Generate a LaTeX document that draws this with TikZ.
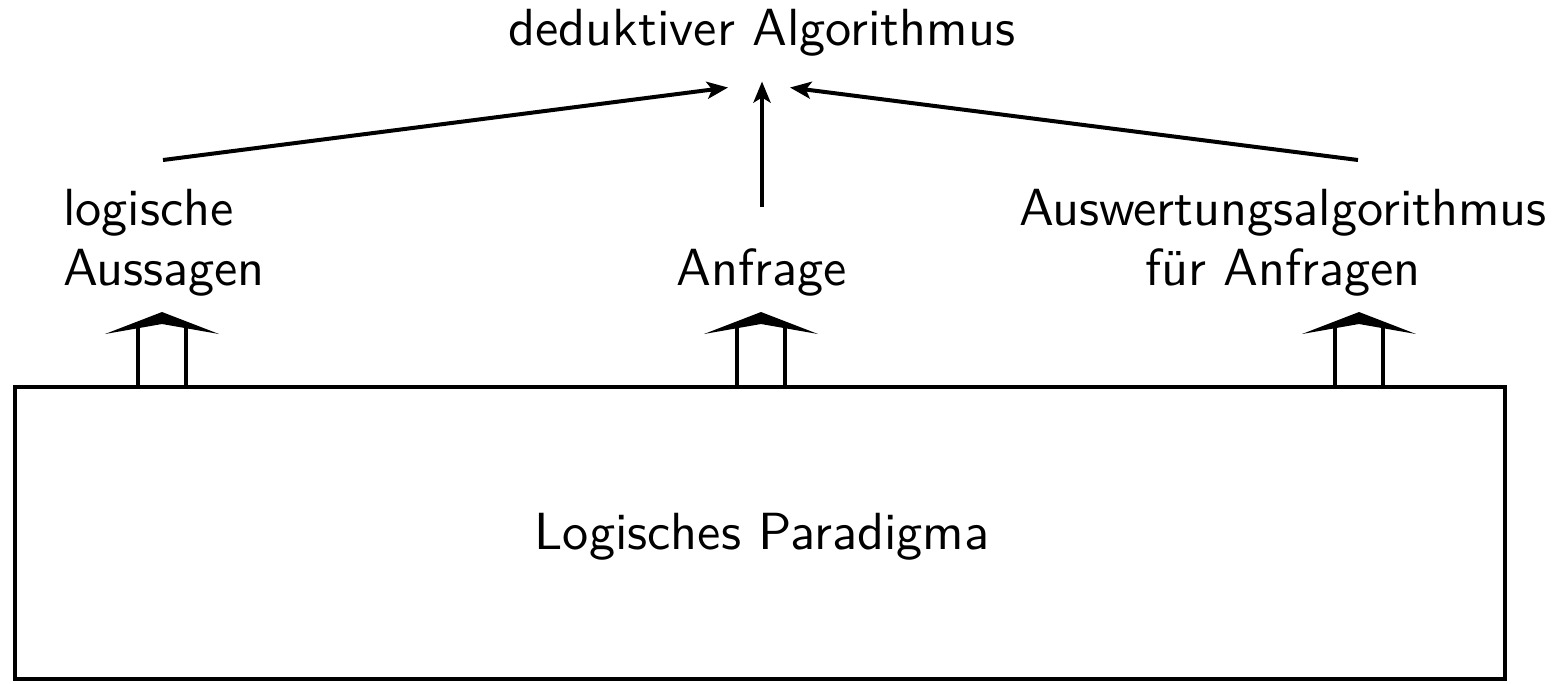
\documentclass[tikz,border=0pt]{standalone}
\usetikzlibrary{arrows.meta}
\begin{document}
\begin{tikzpicture}[x=0.2pt, y=-0.2pt,
    >={Stealth[length=4.2pt, width=3.4pt, inset=1pt]},
    lbl/.style={font=\sffamily\fontsize{10.45}{12}\selectfont, inner sep=0pt},
    conn/.style={->, line width=0.8pt},
    lift/.style={line width=0.8pt}]
  \useasboundingbox (0,0) rectangle (1560,683);

  \node[draw, line width=0.8pt, lbl, minimum width=298pt,
        minimum height=58.4pt] (para) at (760,533) {};
  \node[lbl] (paratxt) at (762,537) {Logisches Paradigma};

  \node[lbl] (deduk) at (762,33) {deduktiver Algorithmus};
  \node[lbl, align=left, anchor=west] (aus) at (62,243) {logische\\Aussagen};
  \node[lbl] (anf) at (762,272) {Anfrage};
  \node[lbl, align=center] (alg) at (1283,243) {Auswertungsalgorithmus\\f\"ur Anfragen};

  \coordinate (ausend) at (163,160);
  \coordinate (anfend) at (762,207);
  \coordinate (algend) at (1358,160);

  \draw[conn] (ausend) -- ([xshift=-6.8pt, yshift=-6pt]deduk.south);
  \draw[conn] (anfend) -- ([yshift=-4.8pt]deduk.south);
  \draw[conn] (algend) -- ([xshift=5.6pt, yshift=-6pt]deduk.south);

  % lifting arrows from the paradigm box
  \foreach \x in {162, 761, 1359} {
    \draw[lift] (\x-24,387) -- (\x-24,328);
    \draw[lift] (\x+24,387) -- (\x+24,328);
    \fill (\x,312) -- (\x+57,334) -- (\x,324) -- (\x-57,334) -- cycle;
  }
\end{tikzpicture}
\end{document}
